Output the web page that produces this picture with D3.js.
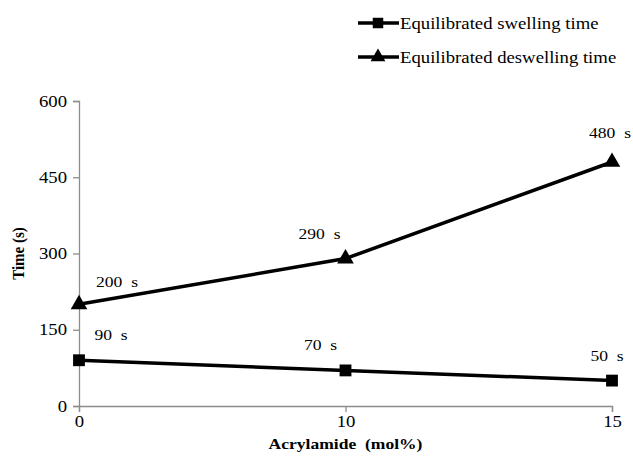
<!DOCTYPE html>
<html><head><meta charset="utf-8">
<script src="https://cdn.jsdelivr.net/npm/d3@7"></script>
<style>body{margin:0;background:#fff}svg{display:block}
svg text{font-family:"Liberation Serif","Times New Roman",Tinos,"DejaVu Serif",serif !important;}</style>
</head><body>
<script>
const categories = ["0", "10", "15"];
const swelling = [90, 70, 50];
const deswelling = [200, 290, 480];
const swellingLabels = ["90 s", "70 s", "50 s"];
const deswellingLabels = ["200 s", "290 s", "480 s"];
const yTicks = [0, 150, 300, 450, 600];
const seriesNames = ["Equilibrated swelling time", "Equilibrated deswelling time"];

const W = 633, H = 465;
const m = {left: 79, right: 21, top: 101, bottom: 59};
const svg = d3.select("body").append("svg").attr("width", W).attr("height", H);
const FS = 15, SX = 1.17;

const x = d3.scalePoint().domain(categories).range([m.left, W - m.right]);
const y = d3.scaleLinear().domain([0, 600]).range([H - m.bottom, m.top]);

const axisColor = "#8c8c8c";
const ya = svg.append("g").attr("transform", `translate(${m.left},0)`)
  .call(d3.axisLeft(y).tickValues(yTicks).tickSize(6).tickPadding(6));
const xa = svg.append("g").attr("transform", `translate(0,${H - m.bottom})`)
  .call(d3.axisBottom(x).tickSize(6).tickPadding(4));
[ya, xa].forEach(a => {
  a.select(".domain").attr("stroke", axisColor).attr("stroke-width", 1.3);
  a.selectAll(".tick line").attr("stroke", axisColor).attr("stroke-width", 1.3);
  a.selectAll("text").attr("font-size", 16).attr("fill", "#000");
});
xa.selectAll("text").attr("transform", `scale(${SX},1)`);
ya.selectAll("text").attr("x", -12 / SX).attr("transform", `scale(${SX},1)`);

function stretchText(sel, px, py) {
  return sel.attr("transform", `translate(${px},${py}) scale(${SX},1)`);
}

svg.append("text")
  .attr("transform", `translate(24,${(y(0)+y(600))/2}) rotate(-90) scale(1,${SX})`)
  .attr("text-anchor", "middle").attr("font-weight", "bold")
  .attr("font-size", FS).text("Time (s)");
stretchText(svg.append("text"), (x("0") + x("15")) / 2, 449)
  .attr("text-anchor", "middle").attr("font-weight", "bold")
  .attr("font-size", FS).attr("xml:space", "preserve").text("Acrylamide  (mol%)");

const line = d3.line().x((d, i) => x(categories[i])).y(d => y(d));
const sq = d3.symbol().type(d3.symbolSquare).size(140);
const tri = d3.symbol().type(d3.symbolTriangle).size(120);

function drawSeries(vals, sym) {
  svg.append("path").datum(vals).attr("d", line).attr("fill", "none")
    .attr("stroke", "#000").attr("stroke-width", 3.5);
  svg.selectAll(null).data(vals).enter().append("path")
    .attr("d", sym).attr("fill", "#000")
    .attr("transform", (d, i) => `translate(${x(categories[i])},${y(d)})`);
}
drawSeries(deswelling, tri);
drawSeries(swelling, sq);

const desOff = [[38, -17], [-26, -20], [-2, -24]];
const swOff = [[32, -20], [-25, -20], [-5, -20]];
function labels(vals, texts, off) {
  svg.selectAll(null).data(vals).enter().append("text")
    .attr("transform", (d, i) => `translate(${x(categories[i]) + off[i][0]},${y(d) + off[i][1]}) scale(${SX},1)`)
    .attr("text-anchor", "middle").attr("font-size", FS)
    .attr("xml:space", "preserve")
    .text((d, i) => texts[i].replace(" ", "  "));
}
labels(deswelling, deswellingLabels, desOff);
labels(swelling, swellingLabels, swOff);

const syms = [sq, tri];
seriesNames.forEach((n, i) => {
  const ly = 23 + i * 34;
  svg.append("line").attr("x1", 358).attr("x2", 399).attr("y1", ly).attr("y2", ly)
    .attr("stroke", "#000").attr("stroke-width", 3.5);
  svg.append("path").attr("d", syms[i].size(i === 0 ? 110 : 95)).attr("fill", "#000")
    .attr("transform", `translate(378,${ly})`);
  stretchText(svg.append("text"), 400, ly).attr("dy", "0.35em")
    .attr("font-size", 16).text(n);
});
</script>
</body></html>
